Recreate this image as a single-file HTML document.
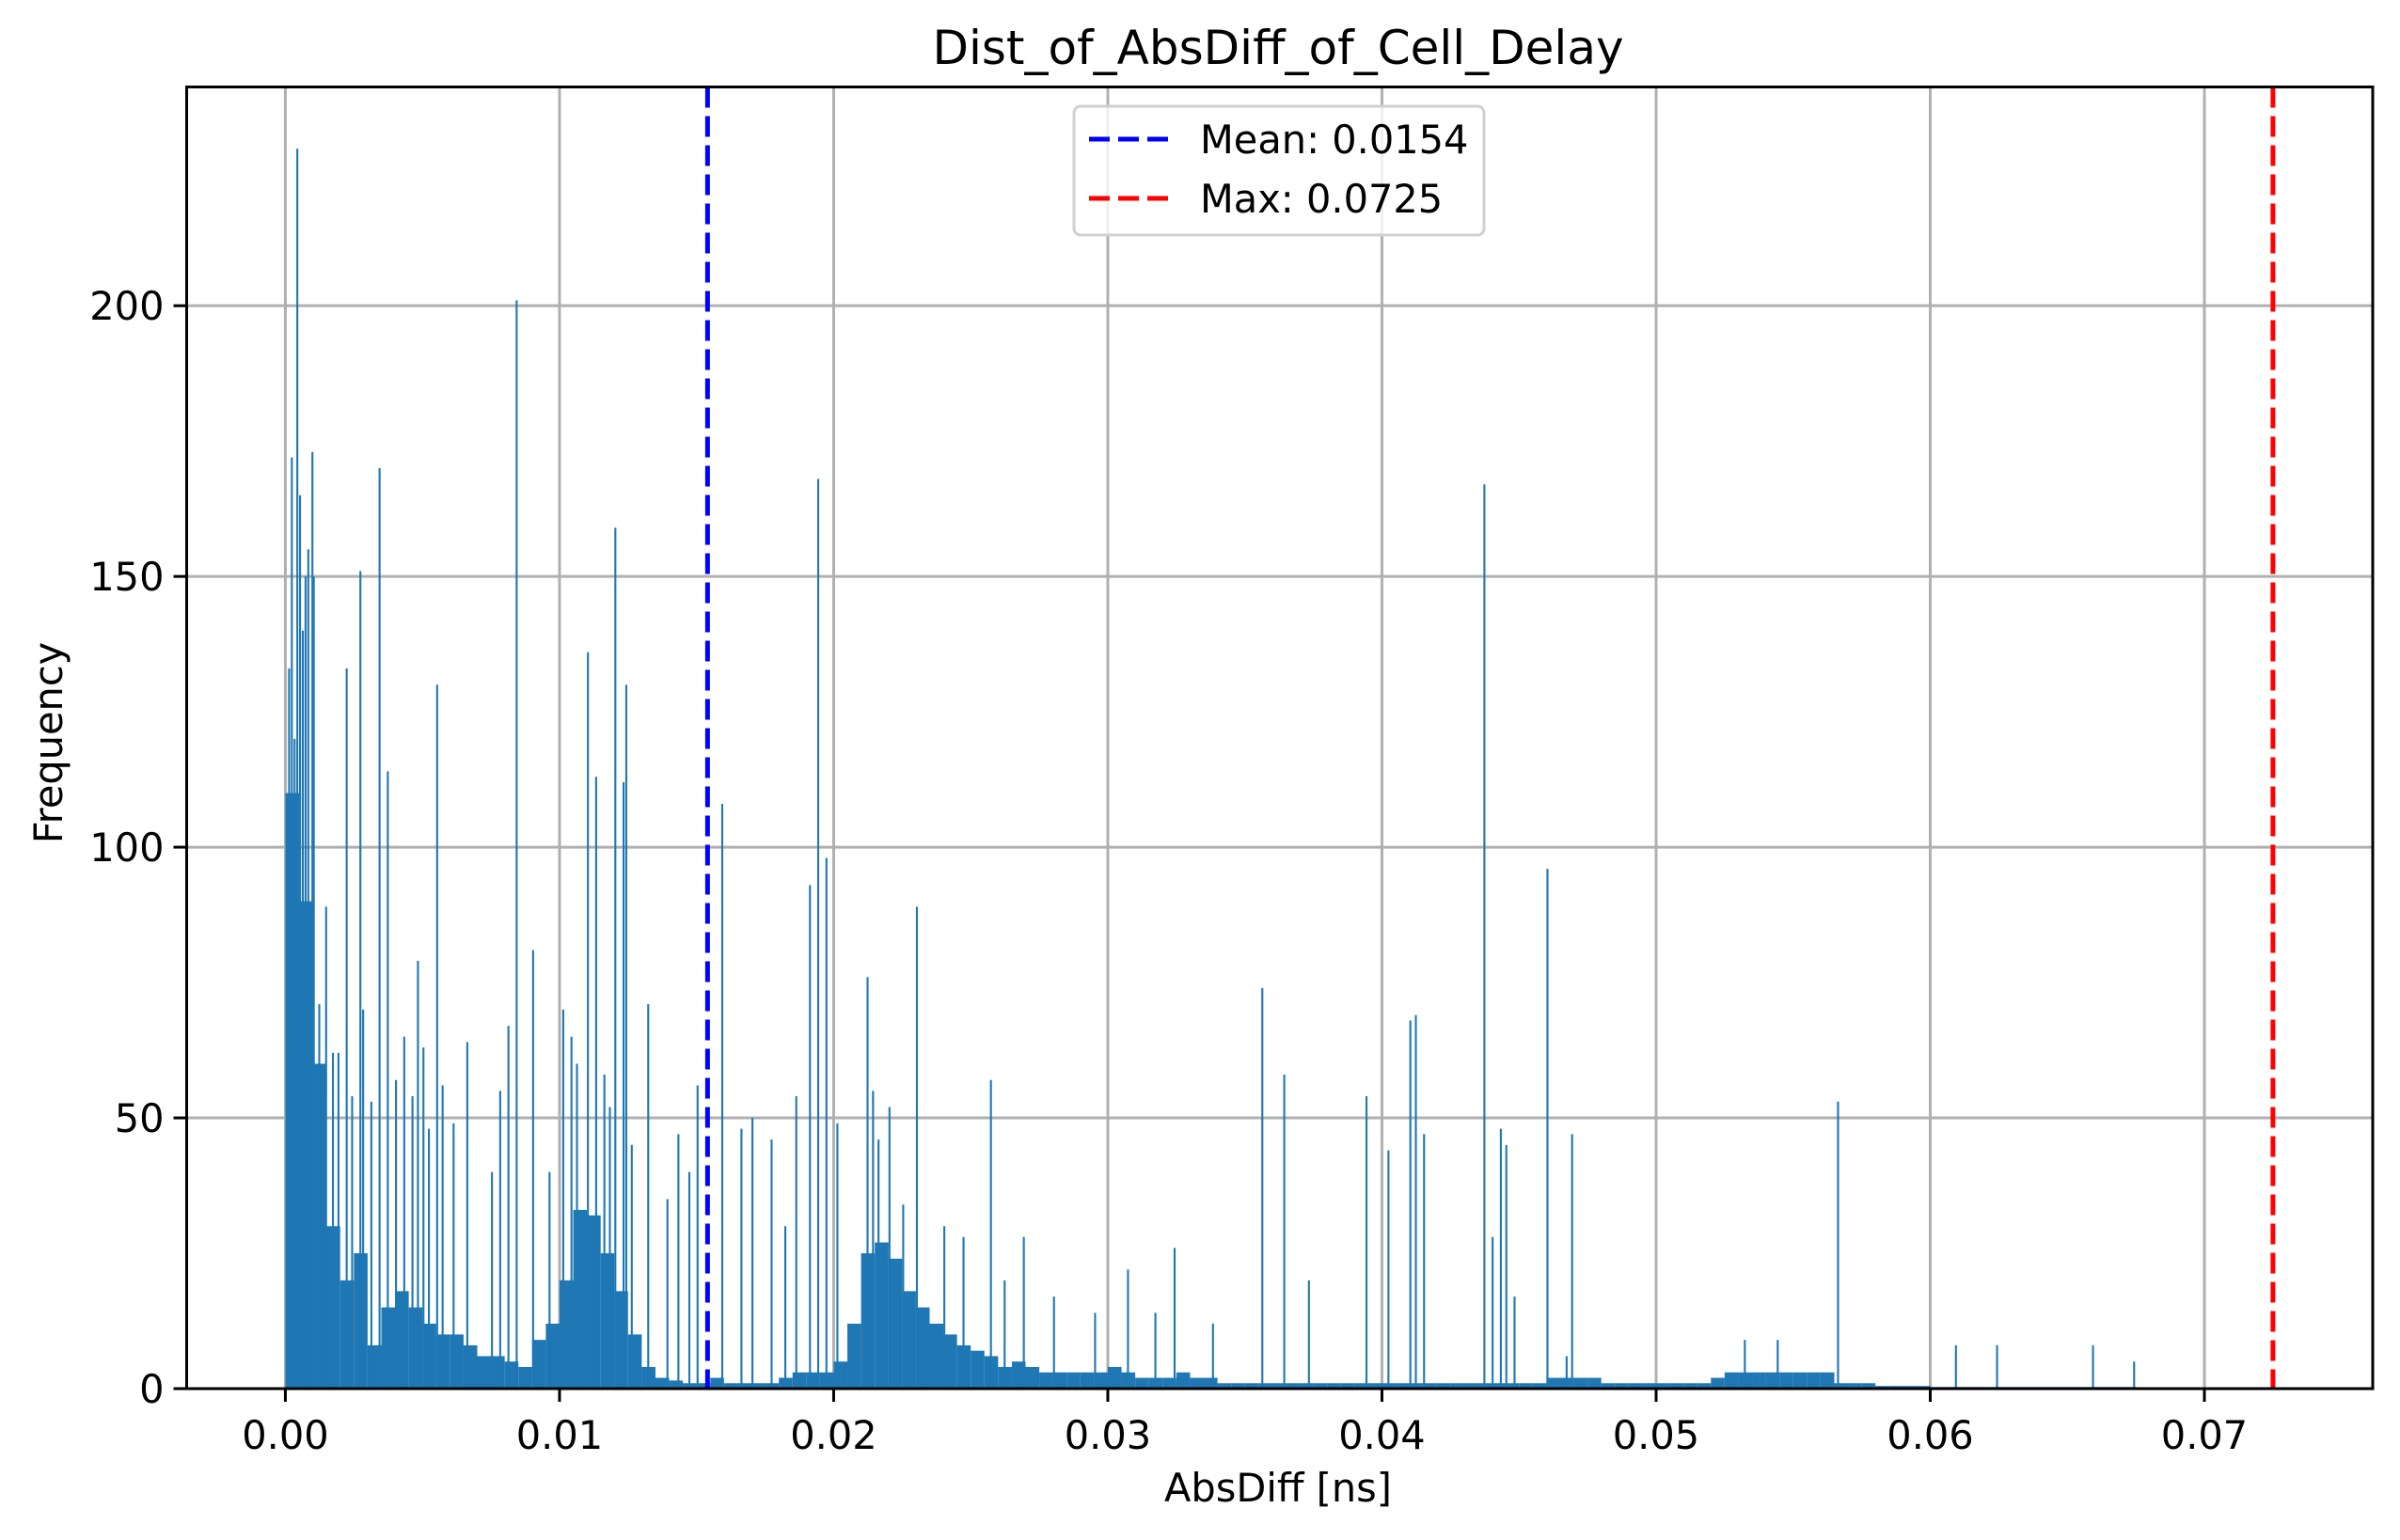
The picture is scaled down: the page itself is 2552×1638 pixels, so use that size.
<!DOCTYPE html>
<html><head><meta charset="utf-8">
<style>
html,body{margin:0;padding:0;background:#fff;}
svg{display:block;font-family:"DejaVu Sans","Liberation Sans",sans-serif;}
</style></head>
<body>
<svg id="chart" width="2552" height="1638" viewBox="0 0 2552 1638" xmlns="http://www.w3.org/2000/svg">
<rect x="0" y="0" width="2552" height="1638" fill="#fff"/>
<text x="1359" y="68" font-size="50" text-anchor="middle" fill="#000">Dist_of_AbsDiff_of_Cell_Delay</text>
<g id="grid"></g>
<g id="bars"></g>
<g id="refLines"></g>
<g id="axes"></g>
<text x="1359" y="1597" font-size="41.5" text-anchor="middle" fill="#000">AbsDiff [ns]</text>
<text x="0" y="0" font-size="41.5" text-anchor="middle" fill="#000" transform="translate(66,790) rotate(-90)">Frequency</text>
<g>
<rect x="1142" y="113" width="436" height="137" rx="7" fill="#fff" fill-opacity="0.8" stroke="#d0d0d0" stroke-width="3"/>
<line x1="1158" y1="148" x2="1242" y2="148" stroke="#0000ff" stroke-width="5" stroke-dasharray="22,9"/>
<text x="1276" y="163" font-size="41.5" fill="#000">Mean: 0.0154</text>
<line x1="1158" y1="211" x2="1242" y2="211" stroke="#ff0000" stroke-width="5" stroke-dasharray="22,9"/>
<text x="1276" y="226" font-size="41.5" fill="#000">Max: 0.0725</text>
</g>
</svg>
<script>
// base histogram level per 0.0005-wide bin, starting at 0
const baseValues = [110,90,60,30,20,25,8,15,18,15,12,10,10,8,6,6,5,4,9,12,
20,33,32,25,18,10,4,2,1.5,1,1,2,1,1,1,1,2,3,3,3,
5,12,25,27,24,18,15,12,10,8,7,6,4,5,4,3,3,3,3,3,
4,3,2,2,2,3,2,2,1,1,1,1,1,1,1,1,1,1,1,1,
1,1,1,1,1,1,1,1,1,1,1,1,2,2,2,2,1,1,1,1,
1,1,1,1,2,3,3,3,3,3,3,3,3,1,1,1,0.5,0.5,0.5,0.5,
0.3,0.3,0.3,0.3,0.3,0.3,0.3,0.3,0.3,0.3,0.3,0.3,0.3,0.3,0.3];
// isolated spike bins
const spikeX = [0.0001,0.0002,0.0003,0.0004,0.0005,0.0006,0.0007,0.0008,0.00095,0.001,0.0012,0.0013,0.00145,0.0017,0.0019,0.0022,0.0024,0.0027,0.0028,0.0031,0.0034,0.0037,0.004,0.0043,0.0046,0.0048,0.005,0.0052,0.0055,0.0057,0.0061,0.0066,0.0075,0.0078,0.0081,0.0084,0.009,0.0096,0.0101,0.0104,0.0106,0.011,0.0113,0.0116,0.0118,0.012,0.0123,0.0124,0.0126,0.0132,0.0139,0.0143,0.0147,0.0150,0.0159,0.0166,0.017,0.0177,0.0182,0.0186,0.0191,0.0194,0.0197,0.0201,0.0212,0.0214,0.0216,0.022,0.0225,0.023,0.024,0.0247,0.0257,0.0262,0.0269,0.028,0.0295,0.0307,0.0317,0.0324,0.0338,0.0356,0.0364,0.0373,0.0394,0.0402,0.041,0.0412,0.0415,0.0437,0.044,0.0443,0.0445,0.0448,0.046,0.0467,0.0469,0.0532,0.0544,0.0566,0.0609,0.0624,0.0659,0.0674];
const spikeY = [133,172,120,229,165,140,150,155,173,150,71,55,89,62,62,133,54,151,70,53,170,114,57,65,54,79,63,48,130,56,49,64,40,55,67,201,81,40,70,65,60,136,113,58,52,159,112,130,45,71,35,47,40,56,108,48,50,46,30,54,93,168,98,49,76,55,46,52,34,89,30,28,57,20,28,17,14,22,14,26,12,74,58,20,54,44,68,69,47,167,28,48,45,17,96,6,47,9,9,53,8,8,8,5];
const xTicks = [0,0.01,0.02,0.03,0.04,0.05,0.06,0.07];
const xTickLabels = ["0.00","0.01","0.02","0.03","0.04","0.05","0.06","0.07"];
const yTicks = [0,50,100,150,200];
const meanValue = 0.0154;
const maxValue = 0.0725;

const L=198.5,R=2523,T=92.5,B=1477;
const xMin=-0.0036,xMax=0.07614,yMin=0,yMax=240.4;
const baseWidth=0.0005, spikeWidth=0.0000725;
function sx(v){return L+(v-xMin)/(xMax-xMin)*(R-L);}
function sy(v){return B-(v-yMin)/(yMax-yMin)*(B-T);}
const NS="http://www.w3.org/2000/svg";
function mk(tag,attrs,parent){const e=document.createElementNS(NS,tag);for(const k in attrs)e.setAttribute(k,attrs[k]);parent.appendChild(e);return e;}
const grid=document.getElementById('grid'),bars=document.getElementById('bars'),axes=document.getElementById('axes'),ref=document.getElementById('refLines');
xTicks.forEach((t,i)=>{
  const g=mk('line',{x1:sx(t),x2:sx(t),y1:T,y2:B,stroke:'#b0b0b0','stroke-width':3},grid);
  
  
  const tk=mk('line',{x1:sx(t),x2:sx(t),y1:B,y2:B+14,stroke:'#000','stroke-width':3},axes);
  
  
  const tx=mk('text',{x:sx(t),y:1541,'font-size':41.5,'text-anchor':'middle',fill:'#000'},axes);
  tx.textContent=xTickLabels[i];
  
  
});
yTicks.forEach(t=>{
  const g=mk('line',{x1:L,x2:R,y1:sy(t),y2:sy(t),stroke:'#b0b0b0','stroke-width':3},grid);
  
  
  const tk=mk('line',{x1:L-14,x2:L,y1:sy(t),y2:sy(t),stroke:'#000','stroke-width':3},axes);
  
  
  const tx=mk('text',{x:L-24,y:sy(t)+15,'font-size':41.5,'text-anchor':'end',fill:'#000'},axes);
  tx.textContent=String(t);
  
  
});
baseValues.forEach((v,i)=>{
  const x0=sx(i*baseWidth),x1=sx((i+1)*baseWidth);
  const r=mk('rect',{x:x0,y:sy(v),width:x1-x0,height:sy(0)-sy(v),fill:'#1f77b4'},bars);
  
  
});
spikeX.forEach((v,i)=>{
  const x0=sx(v),x1=sx(v+spikeWidth);
  const r=mk('rect',{x:x0,y:sy(spikeY[i]),width:Math.max(2,x1-x0),height:sy(0)-sy(spikeY[i]),fill:'#1f77b4'},bars);
  
  
});
const m=mk('line',{x1:sx(meanValue),x2:sx(meanValue),y1:T,y2:B,stroke:'#0000ff','stroke-width':5,'stroke-dasharray':'22,9'},ref);


const mx=mk('line',{x1:sx(maxValue),x2:sx(maxValue),y1:T,y2:B,stroke:'#ff0000','stroke-width':5,'stroke-dasharray':'22,9'},ref);


const fr=mk('rect',{x:L,y:T,width:R-L,height:B-T,fill:'none',stroke:'#000','stroke-width':3},axes);


</script>
</body></html>
